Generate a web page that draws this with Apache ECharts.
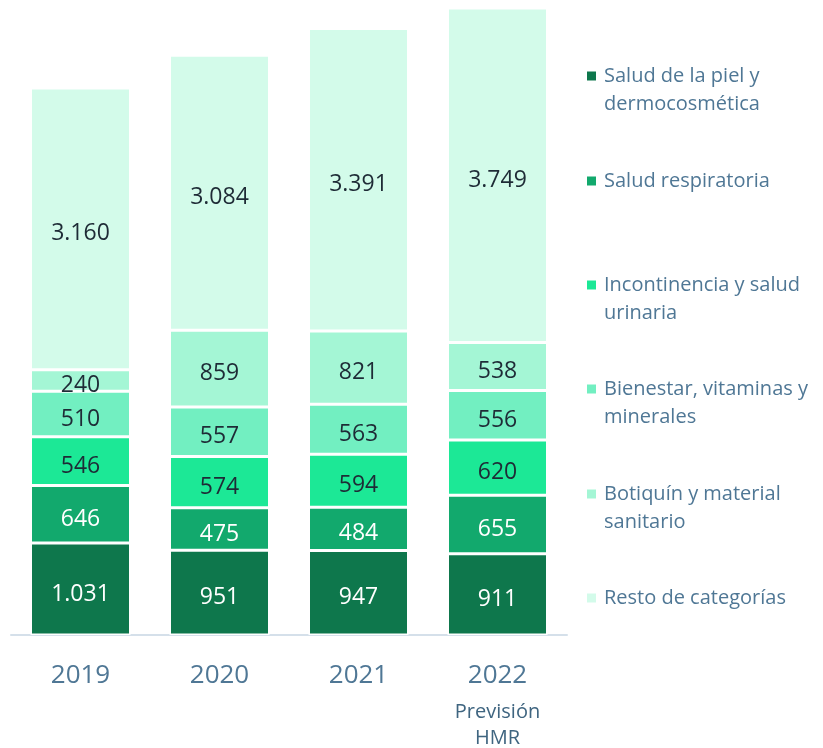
<!DOCTYPE html>
<html lang="es">
<head>
<meta charset="UTF-8">
<script src="https://cdn.jsdelivr.net/npm/echarts@6/dist/echarts.min.js"></script>
<title>Categorías</title>
<style>html,body{margin:0;padding:0;background:#fff;}</style>
</head>
<body>
<div id="main" style="width:823px;height:748px;"></div>
<script type="text/javascript">
    var years = ['2019', '2020', '2021', '2022'];
    var names = ['Salud de la piel y dermocosmética', 'Salud respiratoria', 'Incontinencia y salud urinaria',
        'Bienestar, vitaminas y minerales', 'Botiquín y material sanitario', 'Resto de categorías'];
    // etiquetas de la leyenda, partidas en líneas
    var legendLines = [['Salud de la piel y', 'dermocosmética'], ['Salud respiratoria'],
        ['Incontinencia y salud', 'urinaria'], ['Bienestar, vitaminas y', 'minerales'],
        ['Botiquín y material', 'sanitario'], ['Resto de categorías']];
    var piel = [1031, 951, 947, 911];
    var respiratoria = [646, 475, 484, 655];
    var incontinencia = [546, 574, 594, 620];
    var bienestar = [510, 557, 563, 556];
    var botiquin = [240, 859, 821, 538];
    var resto = [3160, 3084, 3391, 3749];
    var colors = ['#0e774c', '#12a96d', '#1ce896', '#72efc1', '#a4f6d5', '#d3fbea'];

    var allData = [piel, respiratoria, incontinencia, bienestar, botiquin, resto];

    function fmt(v) {
        return String(v).replace(/\B(?=(\d{3})+(?!\d))/g, '.');
    }

    var myChart = echarts.init(document.getElementById('main'));

    var series = [];
    for (var i = 0; i < names.length; i++) {
        series.push({
            name: names[i],
            type: 'bar',
            stack: 'total',
            barWidth: 100,
            data: allData[i],
            itemStyle: {color: colors[i], borderColor: '#fff', borderWidth: 1.5},
            label: {
                show: true,
                position: 'inside',
                offset: [0, 5],
                fontFamily: 'Open Sans',
                fontSize: 23,
                color: i < 2 ? '#ffffff' : '#1e2b36',
                formatter: function (p) { return fmt(p.value); }
            }
        });
    }

    // una leyenda por elemento para respetar las posiciones
    var lineTops = [75, 180, 284, 388, 493, 597];
    var legends = [];
    for (var j = 0; j < names.length; j++) {
        var lines = legendLines[j];
        var txt;
        if (lines.length > 1) {
            // línea vacía arriba para que el cuadrado quede en la primera línea
            txt = '{e| }\n{t|' + lines[0] + '}\n{t|' + lines[1] + '}';
        } else {
            txt = '{t|' + lines[0] + '}';
        }
        legends.push({
            data: [names[j]],
            left: 585,
            top: lineTops[j] - (lines.length > 1 ? 32 : 9),
            padding: 0,
            itemWidth: 11,
            itemHeight: 11,
            icon: 'rect',
            selectedMode: false,
            formatter: (function (t) { return function () { return t; }; })(txt),
            textStyle: {
                padding: [0, 0, 0, 2],
                rich: {
                    e: {fontSize: 10, lineHeight: 28},
                    t: {fontFamily: 'Open Sans', fontSize: 20, lineHeight: 28, color: '#4f7795'}
                }
            }
        });
    }

    var option = {
        animation: false,
        legend: legends,
        grid: {left: 11, right: 256, top: 8, bottom: 113},
        xAxis: {
            type: 'category',
            data: years,
            axisLine: {lineStyle: {color: '#d5e0ea', width: 2}},
            axisTick: {show: false},
            axisLabel: {
                margin: 18,
                fontFamily: 'Open Sans',
                color: '#4f7795',
                formatter: function (v) {
                    if (v === '2022') return '{y|2022}\n{s|Previsión}\n{s|HMR}';
                    return '{y|' + v + '}';
                },
                rich: {
                    y: {fontFamily: 'Open Sans', fontSize: 26, lineHeight: 46, color: '#4f7795'},
                    s: {fontFamily: 'Open Sans', fontSize: 20, lineHeight: 26, color: '#3f6580'}
                }
            }
        },
        yAxis: {
            type: 'value',
            min: 0,
            max: 7029,
            show: false,
            splitLine: {show: false}
        },
        series: series
    };
    myChart.setOption(option);
</script>
</body>
</html>
